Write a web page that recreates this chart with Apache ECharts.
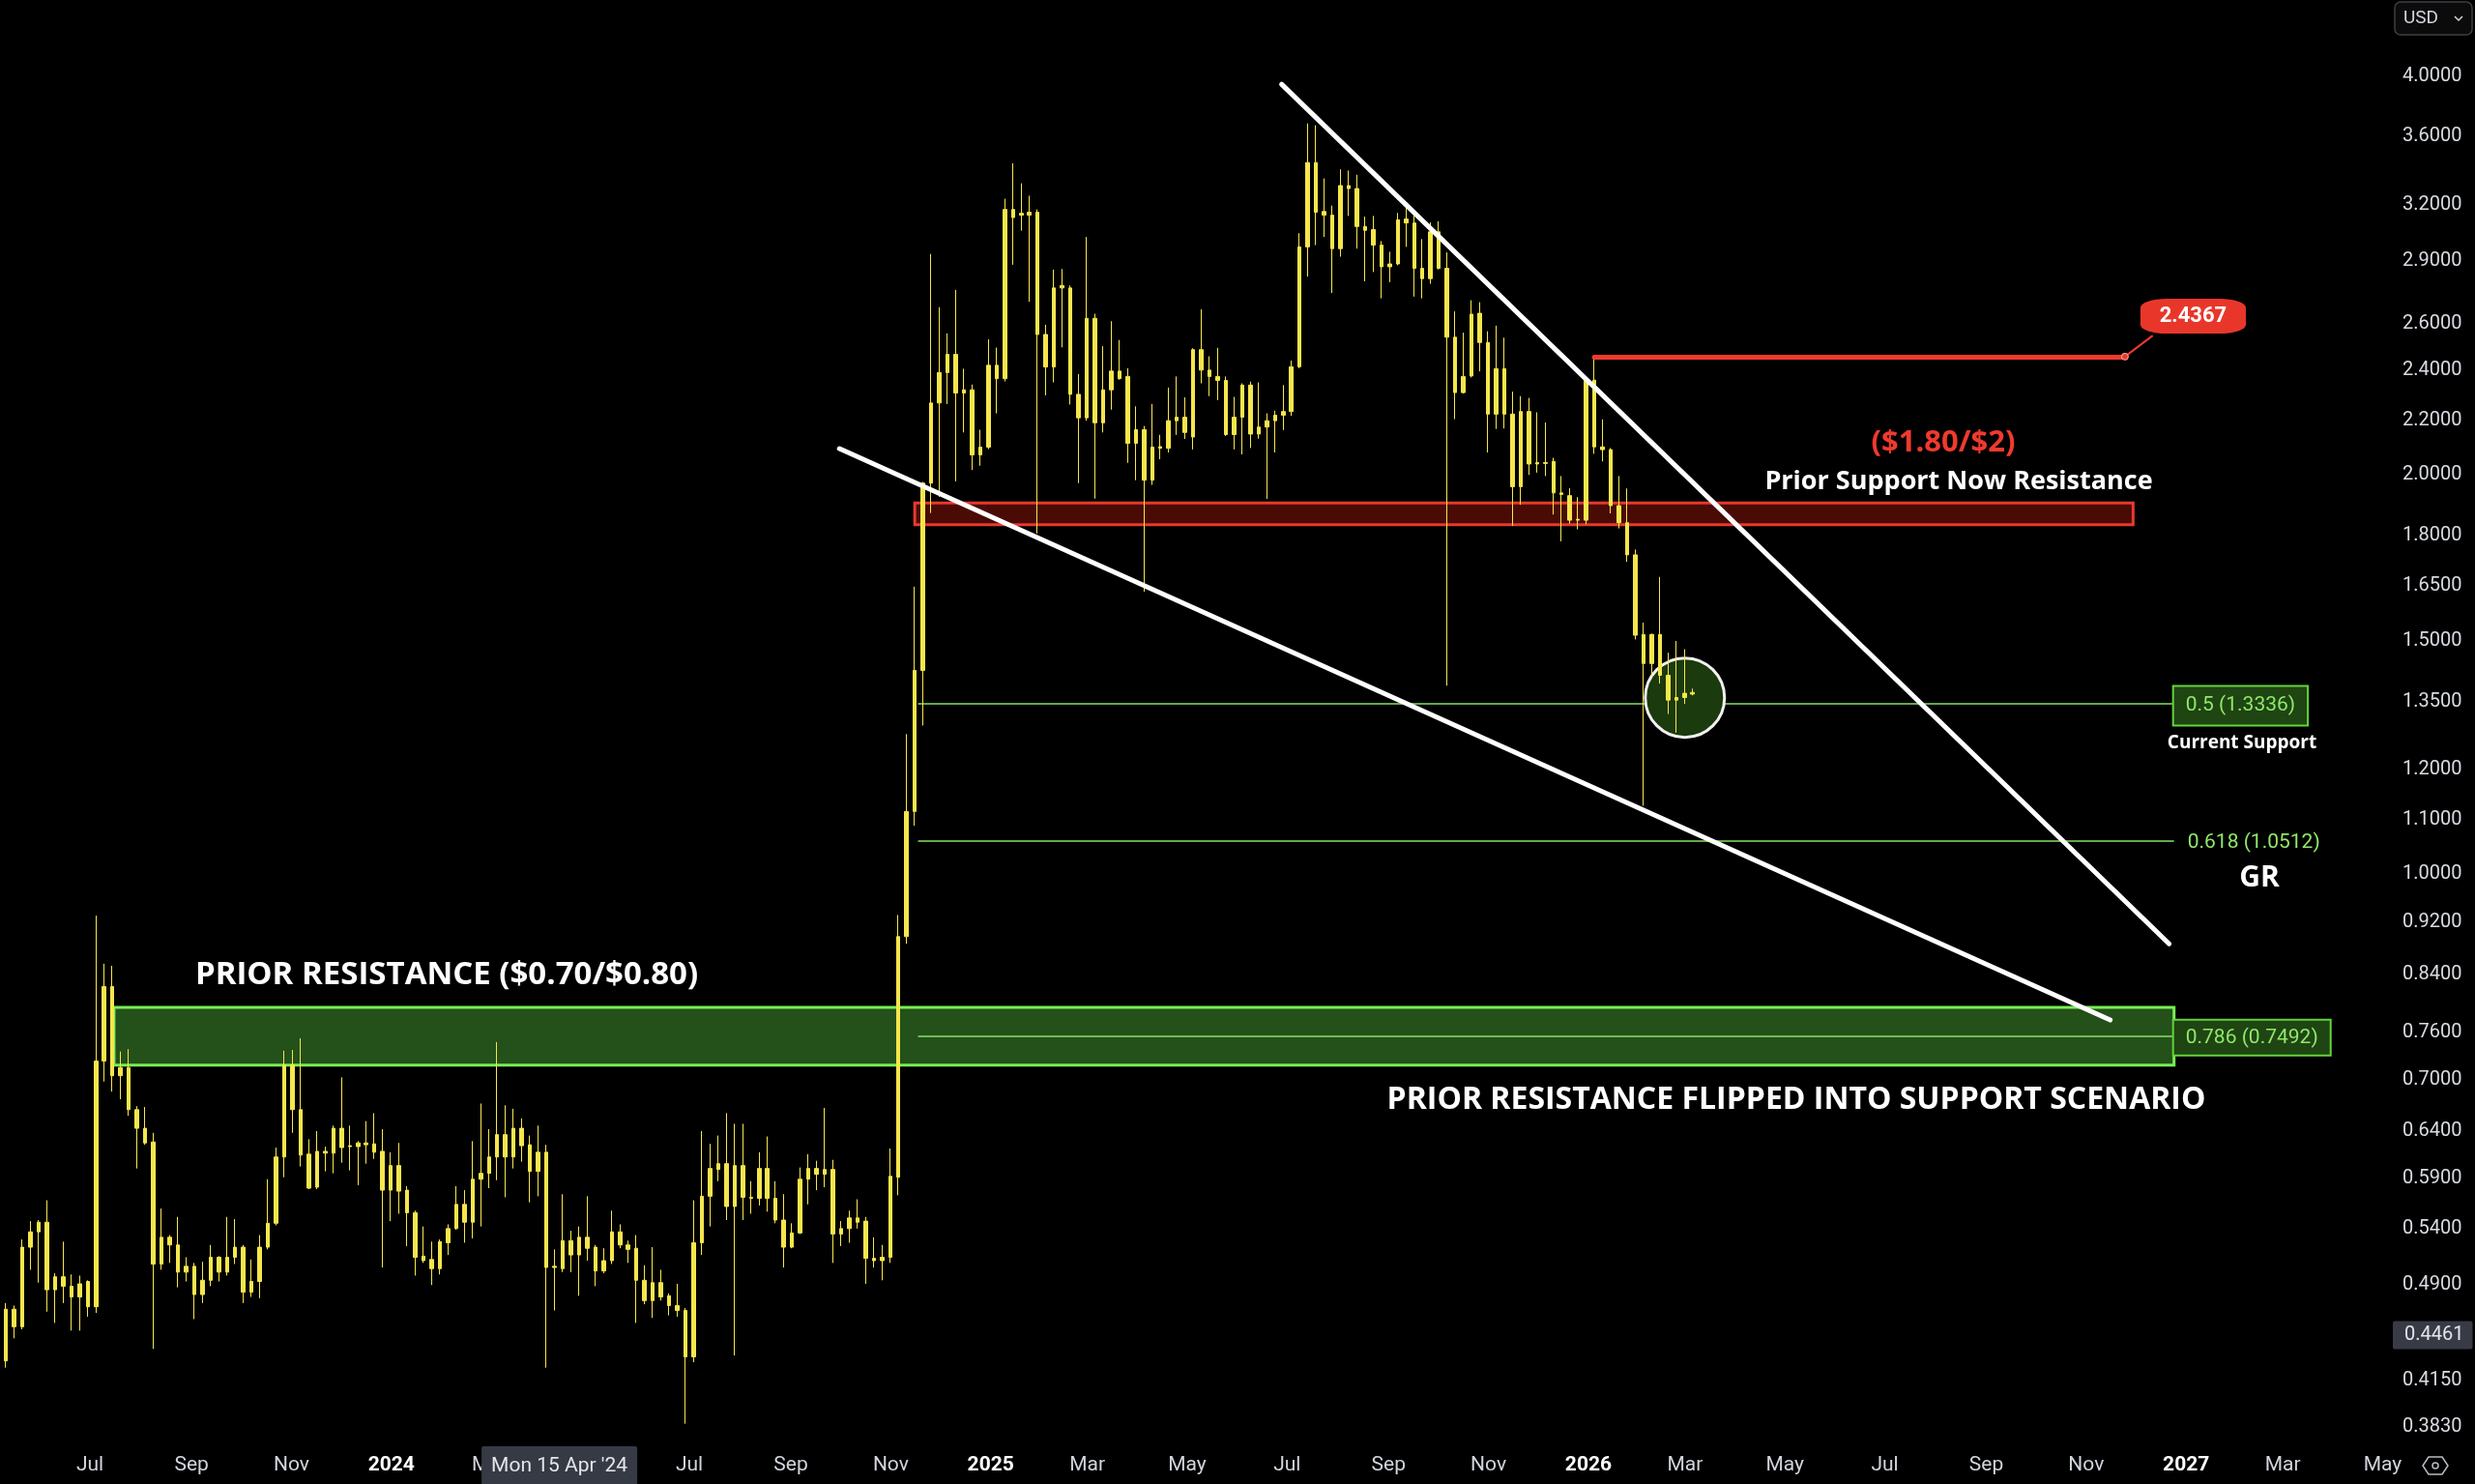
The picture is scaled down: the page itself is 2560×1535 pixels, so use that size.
<!DOCTYPE html>
<html><head><meta charset="utf-8">
<script src="https://cdn.jsdelivr.net/npm/echarts@6/dist/echarts.min.js"></script>
<style>html,body{margin:0;padding:0;background:#000;}#c{width:2560px;height:1535px;}</style>
</head><body><div id="c"></div>
<script>
// ---------------- DATA ----------------
const START_DATE = '2023-05-08';
const STEP_DAYS = 5;
const open = [0.433,0.426,0.466,0.452,0.519,0.533,0.542,0.482,0.493,0.485,
0.476,0.489,0.468,0.717,0.816,0.699,0.709,0.659,0.638,0.623,
0.504,0.528,0.521,0.497,0.502,0.478,0.490,0.510,0.497,0.510,
0.519,0.480,0.489,0.519,0.541,0.607,0.712,0.659,0.610,0.576,
0.613,0.611,0.638,0.618,0.618,0.622,0.621,0.613,0.573,0.598,
0.573,0.551,0.511,0.508,0.500,0.523,0.536,0.559,0.542,0.584,
0.590,0.607,0.631,0.607,0.638,0.620,0.592,0.612,0.501,0.500,
0.525,0.512,0.528,0.519,0.498,0.507,0.533,0.521,0.518,0.490,
0.473,0.488,0.477,0.469,0.465,0.429,0.523,0.567,0.594,0.600,
0.557,0.598,0.566,0.565,0.595,0.565,0.544,0.519,0.532,0.584,
0.595,0.589,0.594,0.531,0.536,0.546,0.543,0.509,0.507,0.510,
0.586,0.890,1.106,1.413,1.956,2.248,2.370,2.446,2.287,2.300,
2.054,2.082,2.400,2.345,3.146,3.115,3.115,3.131,2.532,2.393,
2.745,2.745,2.282,2.191,2.604,2.172,2.300,2.376,2.354,2.096,
2.146,1.966,2.084,2.078,2.180,2.193,2.119,2.466,2.380,2.354,
2.338,2.128,2.193,2.319,2.130,2.156,2.180,2.201,2.215,2.394,
2.948,3.413,3.135,3.115,2.939,3.279,3.262,3.054,3.038,2.957,
2.848,2.862,3.094,3.073,2.840,2.790,3.026,2.840,2.520,2.289,
2.356,2.627,2.497,2.205,2.386,2.205,1.944,2.215,2.022,2.027,
2.031,1.923,1.914,1.834,1.834,2.339,2.083,2.073,1.881,1.826,
1.727,1.504,1.430,1.504,1.401,1.342,1.348,1.356];
const close = [0.426,0.466,0.452,0.519,0.533,0.542,0.482,0.493,0.485,0.476,
0.487,0.468,0.717,0.816,0.699,0.709,0.659,0.638,0.622,0.504,
0.528,0.521,0.497,0.502,0.478,0.490,0.510,0.497,0.510,0.519,
0.480,0.489,0.519,0.541,0.607,0.712,0.659,0.609,0.575,0.613,
0.611,0.638,0.617,0.619,0.622,0.620,0.612,0.573,0.598,0.572,
0.551,0.510,0.507,0.500,0.524,0.536,0.559,0.542,0.584,0.590,
0.607,0.631,0.607,0.638,0.619,0.592,0.612,0.501,0.502,0.525,
0.512,0.528,0.518,0.498,0.507,0.533,0.521,0.517,0.490,0.473,
0.488,0.476,0.469,0.465,0.429,0.523,0.567,0.595,0.600,0.557,
0.598,0.566,0.565,0.595,0.565,0.544,0.519,0.532,0.584,0.595,
0.589,0.594,0.531,0.536,0.546,0.542,0.509,0.507,0.510,0.587,
0.890,1.106,1.413,1.956,2.248,2.370,2.446,2.287,2.300,2.054,
2.082,2.400,2.345,3.146,3.102,3.125,3.131,2.532,2.393,2.745,
2.757,2.282,2.191,2.604,2.172,2.300,2.376,2.345,2.096,2.146,
1.966,2.082,2.078,2.180,2.193,2.136,2.466,2.380,2.354,2.338,
2.128,2.193,2.319,2.130,2.156,2.180,2.201,2.215,2.394,2.948,
3.413,3.131,3.115,2.939,3.279,3.262,3.054,3.034,2.957,2.848,
2.862,3.090,3.073,2.840,2.790,3.026,2.840,2.520,2.289,2.354,
2.623,2.497,2.205,2.386,2.205,1.944,2.215,2.022,2.027,2.024,
1.923,1.918,1.834,1.837,2.343,2.083,2.073,1.881,1.826,1.727,
1.502,1.430,1.504,1.401,1.342,1.348,1.358,1.360];
const low = [0.412,0.421,0.443,0.450,0.499,0.488,0.464,0.455,0.471,0.449,
0.449,0.460,0.463,0.692,0.680,0.671,0.652,0.595,0.620,0.435,
0.499,0.505,0.484,0.489,0.458,0.471,0.485,0.489,0.494,0.504,
0.471,0.476,0.475,0.517,0.539,0.586,0.633,0.597,0.574,0.574,
0.592,0.590,0.601,0.593,0.578,0.600,0.605,0.501,0.543,0.550,
0.520,0.494,0.505,0.486,0.495,0.512,0.535,0.523,0.527,0.538,
0.575,0.583,0.566,0.595,0.602,0.561,0.567,0.421,0.465,0.497,
0.497,0.477,0.507,0.485,0.496,0.504,0.518,0.505,0.455,0.470,
0.459,0.473,0.461,0.460,0.382,0.425,0.512,0.538,0.582,0.544,
0.430,0.544,0.550,0.558,0.552,0.541,0.501,0.518,0.531,0.559,
0.573,0.576,0.505,0.520,0.523,0.536,0.487,0.501,0.490,0.505,
0.568,0.879,1.079,1.284,1.857,1.910,2.244,1.962,2.136,2.001,
2.016,2.075,2.208,2.334,2.858,3.032,2.680,1.792,2.278,2.330,
2.476,2.242,1.956,2.180,1.904,2.136,2.222,2.341,2.026,1.966,
1.620,1.950,2.039,2.063,2.127,2.112,2.074,2.326,2.275,2.259,
2.123,2.074,2.056,2.079,2.113,1.903,2.063,2.145,2.198,2.388,
2.800,2.957,2.999,2.721,2.898,3.111,2.939,2.777,2.822,2.696,
2.773,2.855,2.948,2.704,2.696,2.765,2.835,1.376,2.186,2.285,
2.350,2.375,2.063,2.149,2.151,1.816,1.884,1.984,1.992,1.980,
1.852,1.768,1.823,1.805,1.821,2.058,2.031,1.856,1.808,1.706,
1.491,1.117,1.397,1.381,1.310,1.268,1.333,1.353];
const high = [0.438,0.471,0.469,0.526,0.543,0.544,0.563,0.496,0.524,0.495,
0.494,0.490,0.923,0.849,0.846,0.729,0.732,0.663,0.662,0.633,
0.555,0.530,0.547,0.510,0.505,0.506,0.521,0.511,0.547,0.545,
0.521,0.508,0.530,0.584,0.617,0.730,0.731,0.746,0.626,0.635,
0.618,0.641,0.697,0.641,0.624,0.646,0.655,0.637,0.612,0.622,
0.577,0.553,0.538,0.524,0.526,0.540,0.577,0.573,0.624,0.666,
0.637,0.741,0.664,0.660,0.649,0.630,0.641,0.620,0.517,0.569,
0.534,0.538,0.567,0.521,0.518,0.553,0.540,0.525,0.530,0.503,
0.519,0.499,0.479,0.487,0.467,0.563,0.635,0.621,0.630,0.655,
0.643,0.643,0.582,0.612,0.629,0.582,0.569,0.541,0.596,0.610,
0.603,0.661,0.604,0.543,0.553,0.564,0.547,0.528,0.521,0.616,
0.924,1.265,1.634,1.960,2.912,2.655,2.537,2.736,2.386,2.321,
2.146,2.511,2.475,3.205,3.409,3.292,3.222,3.146,2.575,2.834,
2.837,2.757,2.364,2.999,2.625,2.481,2.591,2.508,2.388,2.235,
2.160,2.244,2.127,2.309,2.354,2.270,2.472,2.645,2.438,2.474,
2.354,2.272,2.326,2.333,2.330,2.208,2.218,2.319,2.420,3.019,
3.653,3.641,3.320,3.167,3.373,3.366,3.341,3.107,3.111,2.978,
2.923,3.127,3.171,3.115,2.988,3.076,3.082,2.920,2.636,2.540,
2.687,2.678,2.546,2.571,2.518,2.293,2.275,2.268,2.212,2.173,
2.044,1.980,1.939,1.909,2.353,2.437,2.185,2.079,1.980,1.938,
1.743,1.535,1.506,1.662,1.457,1.487,1.466,1.369];

const yTickValues = [4.0,3.6,3.2,2.9,2.6,2.4,2.2,2.0,1.8,1.65,1.5,1.35,1.2,1.1,1.0,0.92,0.84,0.76,0.70,0.64,0.59,0.54,0.49,0.415,0.383];
const xTickDates = ['2023-07-01','2023-09-01','2023-11-01','2024-01-01','2024-03-01','2024-05-01','2024-07-01','2024-09-01','2024-11-01',
  '2025-01-01','2025-03-01','2025-05-01','2025-07-01','2025-09-01','2025-11-01','2026-01-01','2026-03-01','2026-05-01',
  '2026-07-01','2026-09-01','2026-11-01','2027-01-01','2027-03-01','2027-05-01'];
const MONTHS = ['Jan','Feb','Mar','Apr','May','Jun','Jul','Aug','Sep','Oct','Nov','Dec'];

const greenZone = {from: '2023-07-18', to: '2026-12-27', lowV: 0.712, highV: 0.787};
const redZone = {from: '2024-11-18', to: '2026-12-02', lowV: 1.82, highV: 1.89};
const fibFrom = '2024-11-20', fibTo = '2026-12-27';
const fibLevels = [{ratio: '0.5', value: 1.3336}, {ratio: '0.618', value: 1.0512}, {ratio: '0.786', value: 0.7492}];
const upperTrend = [['2025-06-30', 3.910], ['2026-12-24', 0.879]];
const lowerTrend = [['2024-10-03', 2.077], ['2026-11-18', 0.770]];
const swingHighIndex = 195, swingHighValue = 2.4367, swingLineEnd = '2026-11-27';
const calloutTail = ['2026-12-14', 2.527];
const calloutCenter = ['2027-01-07T16:00:00Z', 2.6135];
const focusCircle = ['2026-03-03T07:00:00Z', 1.3476];
const crosshairPrice = 0.4461;
const crosshairDate = '2024-04-15';

// --------------- BUILD ---------------
const DAY = 86400000;
const ts = s => Date.parse(s.length <= 10 ? s + 'T00:00:00Z' : s);
const candleTimes = open.map((_, i) => ts(START_DATE) + i * STEP_DAYS * DAY);
const candles = candleTimes.map((t, i) => [t, open[i], close[i], low[i], high[i]]);
const YEL = '#f6e64c';
const GREEN_TXT = '#8fe86a';
const ANN_FONT = '"Open Sans", Roboto, sans-serif';
const HIDDEN_LINE = {color: 'rgba(0,0,0,0)', width: 0};

const chart = echarts.init(document.getElementById('c'), null, {renderer: 'canvas'});
const option = {
  backgroundColor: '#000',
  animation: false,
  grid: {left: 0, right: 85, top: 0, bottom: 40},
  xAxis: {
    type: 'value',
    min: ts('2023-05-09') + 0.4 * DAY,
    max: ts('2027-05-09') + 0.6 * DAY,
    axisLine: {show: false}, axisTick: {show: false}, splitLine: {show: false},
    axisLabel: {
      customValues: xTickDates.map(ts),
      color: '#d1d4dc', fontSize: 21, fontFamily: 'Roboto', margin: 10, padding: [0, 0, 0, 8],
      formatter: v => { const d = new Date(v); const m = d.getUTCMonth(); return m === 0 ? '{y|' + d.getUTCFullYear() + '}' : MONTHS[m]; },
      rich: {y: {color: '#ffffff', fontWeight: 'bold', fontSize: 21, fontFamily: 'Roboto'}}
    }
  },
  yAxis: {
    type: 'log', logBase: 10, position: 'right',
    min: 0.3679, max: 4.526,
    axisLine: {show: false}, axisTick: {show: false}, splitLine: {show: false},
    axisLabel: {
      customValues: yTickValues,
      formatter: v => Number(v).toFixed(4),
      color: '#d8dbe2', fontSize: 20, fontFamily: 'Roboto', margin: 10,
      verticalAlign: 'top', lineHeight: 10
    }
  },
  series: [
    { // zones + fib levels (behind candles)
      type: 'line', data: [], silent: true, z: 1, clip: false,
      markArea: {
        silent: true, z: 1,
        data: [
          [{coord: [ts(greenZone.from), greenZone.highV], itemStyle: {color: '#24501a', borderColor: '#78ee54', borderWidth: 3}},
           {coord: [ts(greenZone.to), greenZone.lowV]}],
          [{coord: [ts(redZone.from), redZone.highV], itemStyle: {color: '#4a0b06', borderColor: '#e8392c', borderWidth: 3}},
           {coord: [ts(redZone.to), redZone.lowV]}]
        ]
      },
      markLine: {
        silent: true, z: 1.5, symbol: 'none',
        lineStyle: {type: 'solid', color: '#86e063', width: 1.5},
        data: fibLevels.map((f, k) => [
          {coord: [ts(fibFrom), f.value],
           label: k === 1 ? {show: true, position: 'end', distance: 14, formatter: f.ratio + ' (' + f.value.toFixed(4) + ')', color: GREEN_TXT, fontSize: 21, fontFamily: 'Roboto', offset: [0, 2]}
                          : {show: true, position: 'end', distance: 0, formatter: f.ratio + ' (' + f.value.toFixed(4) + ')', color: GREEN_TXT, fontSize: 21, fontFamily: 'Roboto',
                             backgroundColor: '#1f4513', borderColor: '#63d33c', borderWidth: 2, offset: [0, 2],
                             padding: k === 0 ? [10, 12, 8, 12] : [8, 12, 6, 12]}},
          {coord: [ts(fibTo), f.value]}
        ])
      }
    },
    { // highlight circle
      type: 'scatter', z: 2, silent: true,
      data: [[ts(focusCircle[0]), focusCircle[1]]],
      symbol: 'circle', symbolSize: 82,
      itemStyle: {color: '#1b3a0e', borderColor: '#f2f2f2', borderWidth: 3, opacity: 1}
    },
    {
      type: 'candlestick', z: 3, silent: true,
      data: candles, barWidth: 4,
      itemStyle: {color: YEL, color0: YEL, borderColor: YEL, borderColor0: YEL, borderWidth: 1}
    },
    { // overlay lines and labels
      type: 'line', data: [], silent: true, z: 5, clip: false,
      markLine: {
        silent: true, z: 6, symbol: 'none',
        label: {show: false},
        lineStyle: {type: 'solid'},
        data: [
          [{coord: [ts(upperTrend[0][0]), upperTrend[0][1]], lineStyle: {color: '#ffffff', width: 5, cap: 'round'}},
           {coord: [ts(upperTrend[1][0]), upperTrend[1][1]]}],
          [{coord: [ts(lowerTrend[0][0]), lowerTrend[0][1]], lineStyle: {color: '#ffffff', width: 5, cap: 'round'}},
           {coord: [ts(lowerTrend[1][0]), lowerTrend[1][1]]}],
          [{coord: [candleTimes[swingHighIndex], swingHighValue], lineStyle: {color: '#ef3a2c', width: 5, cap: 'round'}},
           {coord: [ts(swingLineEnd), swingHighValue]}],
          [{coord: [ts(swingLineEnd), swingHighValue], lineStyle: {color: '#ef3a2c', width: 2}},
           {coord: [ts(calloutTail[0]), calloutTail[1]]}],
          {yAxis: crosshairPrice, lineStyle: HIDDEN_LINE,
           label: {show: true, position: 'end', distance: 0, formatter: crosshairPrice.toFixed(4), color: '#e3e5ea', fontSize: 20, fontFamily: 'Roboto',
                   backgroundColor: '#383b46', padding: [5, 9, 4, 12], borderRadius: 2, offset: [0, 6]}},
          {xAxis: ts(crosshairDate), lineStyle: HIDDEN_LINE,
           label: {show: true, position: 'start', distance: 1, formatter: "Mon 15 Apr '24", color: '#e3e5ea', fontSize: 21, fontFamily: 'Roboto',
                   backgroundColor: '#363a45', padding: [10, 10, 9, 10], borderRadius: 2}}
        ]
      },
      markPoint: {
        silent: true, z: 7,
        data: [
          {coord: [ts(calloutCenter[0]), calloutCenter[1]], symbol: 'roundRect', symbolSize: [109, 36],
           itemStyle: {color: '#e8372a'},
           label: {show: true, position: 'inside', formatter: swingHighValue.toFixed(4), color: '#fff', fontWeight: 'bold', fontSize: 22, fontFamily: 'Roboto'}},
          {coord: [ts(swingLineEnd), swingHighValue], symbol: 'circle', symbolSize: 7,
           itemStyle: {color: '#ef3a2c', borderColor: '#ffb0a8', borderWidth: 1}, label: {show: false}}
        ]
      }
    }
  ],
  graphic: [
    {type: 'text', x: 462, y: 1009, z: 10, style: {text: 'PRIOR RESISTANCE ($0.70/$0.80)', fill: '#fff', font: 'bold 33px ' + ANN_FONT, align: 'center', verticalAlign: 'middle'}},
    {type: 'text', x: 1858, y: 1138, z: 10, style: {text: 'PRIOR RESISTANCE FLIPPED INTO SUPPORT SCENARIO', fill: '#fff', font: 'bold 32px ' + ANN_FONT, align: 'center', verticalAlign: 'middle'}},
    {type: 'text', x: 2010, y: 458, z: 10, style: {text: '($1.80/$2)', fill: '#f03a2e', font: 'bold 31px ' + ANN_FONT, align: 'center', verticalAlign: 'middle'}},
    {type: 'text', x: 2026, y: 498, z: 10, style: {text: 'Prior Support Now Resistance', fill: '#fff', font: 'bold 27px ' + ANN_FONT, align: 'center', verticalAlign: 'middle'}},
    {type: 'text', x: 2319, y: 769, z: 10, style: {text: 'Current Support', fill: '#fff', font: 'bold 19px ' + ANN_FONT, align: 'center', verticalAlign: 'middle'}},
    {type: 'text', x: 2337, y: 908, z: 10, style: {text: 'GR', fill: '#fff', font: 'bold 30px ' + ANN_FONT, align: 'center', verticalAlign: 'middle'}},
    {type: 'rect', x: 2477, y: 2, z: 10, shape: {width: 80, height: 34, r: 6}, style: {fill: '#0b0b0b', stroke: '#3d3f47', lineWidth: 1.5}},
    {type: 'text', x: 2486, y: 19, z: 11, style: {text: 'USD', fill: '#d1d4dc', font: '19px Roboto', verticalAlign: 'middle'}},
    {type: 'polyline', z: 11, shape: {points: [[2539, 17], [2543, 21], [2547, 17]]}, style: {stroke: '#d1d4dc', lineWidth: 1.5, fill: null}},
    {type: 'polygon', z: 11, shape: {points: [[2512, 1507], [2526, 1507], [2532, 1516], [2526, 1525], [2512, 1525], [2506, 1516]]}, style: {stroke: '#b9bcc4', lineWidth: 1.5, fill: null}},
    {type: 'circle', z: 11, shape: {cx: 2519, cy: 1516, r: 3}, style: {stroke: '#b9bcc4', lineWidth: 1.5, fill: null}}
  ]
};
chart.setOption(option);
</script>
</body></html>
